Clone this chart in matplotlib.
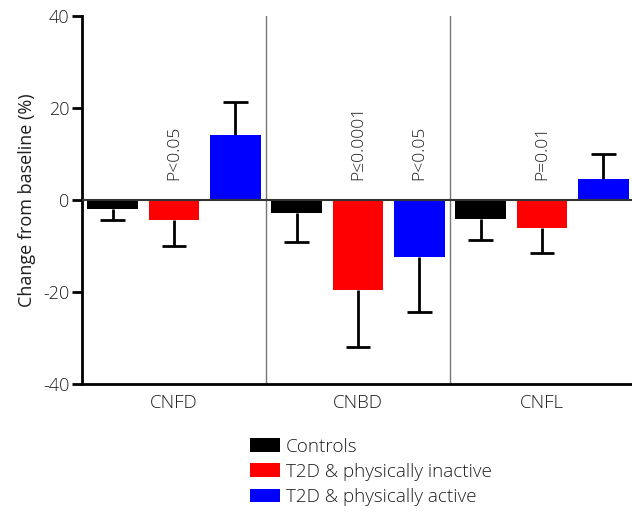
import matplotlib
matplotlib.use("Agg")
import matplotlib.pyplot as plt
from matplotlib.patches import Patch
import numpy as np

plt.rcParams['font.family'] = ['Open Sans', 'DejaVu Sans']
plt.rcParams['font.weight'] = 'light'

categories = ["CNFD", "CNBD", "CNFL"]
groups = ["Controls", "T2D & physically inactive", "T2D & physically active"]
colors = ["#000000", "#ff0000", "#0000ff"]
means = {
    "Controls": [-1.9, -2.75, -4.1],
    "T2D & physically inactive": [-4.3, -19.65, -6.15],
    "T2D & physically active": [14.2, -12.35, 4.5],
}
errors = {
    "Controls": [2.5, 6.4, 4.6],
    "T2D & physically inactive": [5.6, 12.4, 5.3],
    "T2D & physically active": [7.1, 11.9, 5.4],
}
# annotations: (category index, group index, text)
annotations = [(0, 1, "P<0.05"), (1, 1, "P\u22640.0001"), (1, 2, "P<0.05"), (2, 1, "P=0.01")]
yticks = [-40, -20, 0, 20, 40]

W, H = 632, 514
fig = plt.figure(figsize=(W / 100, H / 100), dpi=100)
ax = fig.add_axes([82 / W, 1 - 384 / H, 552 / W, 368 / H])

txtc = "#1e1e1e"
bw = 0.83
for gi, g in enumerate(groups):
    xs = np.arange(len(categories)) * 3 + 0.5 + gi
    vals = np.array(means[g])
    errs = np.array(errors[g])
    ax.bar(xs, vals, width=bw, color=colors[gi], zorder=3, linewidth=0)
    for x, v, e in zip(xs, vals, errs):
        s = 1 if v >= 0 else -1
        ax.plot([x, x], [v, v + s * e], color="black", lw=2, zorder=2, solid_capstyle="butt")
        ax.plot([x - 0.2, x + 0.2], [v + s * e, v + s * e], color="black", lw=2, zorder=2,
                solid_capstyle="butt")

ax.axhline(0, color="#333333", lw=1.5, zorder=4)
for d in [3, 6]:
    ax.axvline(d, color="#777777", lw=1, zorder=1)

for ci, gi, t in annotations:
    x = ci * 3 + 0.5 + gi
    ax.text(x, 4.3, t, rotation=90, ha="center", va="bottom", fontsize=12.5, color=txtc)

ax.set_xlim(0, 9)
ax.set_ylim(-40, 40)
ax.set_yticks(yticks)
ax.set_yticklabels([str(v) for v in yticks], fontsize=13, color=txtc)
ax.set_xticks([1.5, 4.5, 7.5])
ax.set_xticklabels(categories, fontsize=13.5, color=txtc)
ax.tick_params(axis="x", length=0, pad=7)
ax.tick_params(axis="y", length=7, width=2, pad=2)
for sp in ["top", "right"]:
    ax.spines[sp].set_visible(False)
ax.spines["left"].set_linewidth(2)
ax.spines["bottom"].set_linewidth(2)
ax.set_ylabel("Change from baseline (%)", fontsize=13, color=txtc, labelpad=5)

handles = [Patch(facecolor=c, edgecolor="none") for c in colors]
fig.legend(handles, groups, loc="upper left", bbox_to_anchor=(244 / W, 1 - 432 / H),
           frameon=False, fontsize=13.6, handlelength=1.6, handleheight=0.75,
           handletextpad=0.3, labelspacing=0.38, borderaxespad=0, borderpad=0.3)
for t in fig.legends[0].get_texts():
    t.set_color(txtc)

fig.savefig("out.png", dpi=100)
